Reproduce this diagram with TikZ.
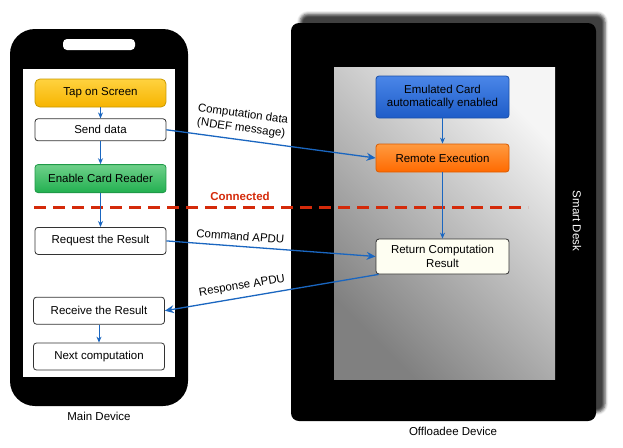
\documentclass[tikz,border=0pt]{standalone}
\usepackage{fontspec}
\setmainfont{Liberation Sans}
\usetikzlibrary{arrows.meta, positioning, shadows.blur}
\definecolor{flowblue}{RGB}{26,102,192}
\definecolor{linkred}{RGB}{212,42,10}
\definecolor{tapyl}{RGB}{255,210,63}
\definecolor{tapyd}{RGB}{246,180,0}
\definecolor{tapyb}{RGB}{201,154,0}
\definecolor{cardgl}{RGB}{111,208,138}
\definecolor{cardgd}{RGB}{34,176,80}
\definecolor{cardgb}{RGB}{31,154,72}
\definecolor{emubl}{RGB}{74,134,232}
\definecolor{emubd}{RGB}{30,92,200}
\definecolor{emubb}{RGB}{26,79,168}
\definecolor{execol}{RGB}{255,154,64}
\definecolor{execod}{RGB}{255,106,0}
\definecolor{execob}{RGB}{216,90,0}
\definecolor{resivory}{RGB}{254,254,242}

\begin{document}
\begin{tikzpicture}[x=1pt, y=-1pt,
  stepbox/.style={rectangle, draw=black!80, fill=white, line width=0.8pt, rounded corners=3pt, minimum width=131pt, minimum height=27pt, align=center, font=\fontsize{11.5}{13.5}\selectfont, inner sep=2pt},
  tapbox/.style={stepbox, draw=tapyb, top color=tapyl, bottom color=tapyd, rounded corners=5pt, minimum height=28pt},
  readerbox/.style={stepbox, draw=cardgb, top color=cardgl, bottom color=cardgd, minimum height=28pt},
  emubox/.style={stepbox, draw=emubb, top color=emubl, bottom color=emubd, minimum width=133pt, minimum height=42pt},
  execbox/.style={stepbox, draw=execob, top color=execol, bottom color=execod, minimum width=133pt, minimum height=28pt},
  resbox/.style={stepbox, fill=resivory, minimum width=133pt, minimum height=35pt},
  flow/.style={-{Stealth[length=6pt, width=5pt]}, draw=flowblue, line width=1pt},
  link/.style={-{Stealth[length=9pt, width=8pt, inset=3pt]}, draw=flowblue, line width=1.3pt},
  msg/.style={font=\fontsize{11.5}{14}\selectfont, align=center, sloped, above=2pt},
  caption/.style={font=\fontsize{11.5}{13}\selectfont}
]
\useasboundingbox (0,0) rectangle (623,447);

% main device (phone)
\fill[black, rounded corners=25pt] (10,29) rectangle (188,406);
\fill[white, rounded corners=4pt] (63,39) rectangle (135,50);
\fill[white] (23,69) rectangle (175,377);
\node[caption] (maincap) at (99,416) {Main Device};

% offloadee device
\fill[black, rounded corners=8pt, blur shadow={shadow xshift=9pt, shadow yshift=9pt, shadow opacity=75, shadow blur radius=3pt}] (291,23) rectangle (596,421);
\shade[top color=black!4, bottom color=black!50, shading angle=-45] (334,67) rectangle (555,379);
\node[caption, white, rotate=-90] (desk) at (577,221) {Smart Desk};
\node[caption] (offcap) at (453,431) {Offloadee Device};

% steps on the phone
\node[tapbox] (tap) at (100.5,93) {Tap on Screen};
\node[stepbox, minimum height=22pt, below=11pt of tap] (send) {Send data};
\node[readerbox, below=23pt of send] (reader) {Enable Card Reader};
\node[stepbox, below=34pt of reader] (request) {Request the Result};
\node[stepbox, below=42pt of request, xshift=-1.5pt] (receive) {Receive the Result};
\node[stepbox, below=18pt of receive] (next) {Next computation};

% steps on the desk
\node[emubox] (emul) at (442.5,97) {Emulated Card\\automatically enabled};
\node[execbox] (remote) at (442.5,158) {Remote Execution};
\node[resbox] (result) at (442.5,256.5) {Return Computation\\Result};

% connected line
\coordinate (conl) at (34,207.5);
\coordinate (conr) at (528,207.5);
\draw[linkred, line width=2.6pt, dash pattern=on 12pt off 7pt] (conl) -- (conr);
\node[text=linkred, font=\fontsize{11.5}{13}\selectfont\bfseries] (conlbl) at (240,196) {Connected};

% arrows
\draw[flow] (tap) -- (send);
\draw[flow] (send) -- (reader);
\draw[flow] (reader) -- (request);
\draw[flow] (receive) -- (next);
\draw[flow] (emul) -- (remote);
\draw[flow] (remote) -- (result);

\draw[link] (send.east) -- (remote.west) node[msg, pos=0.35] {Computation data\\(NDEF message)};
\draw[link] (request.east) -- (result.west) node[msg, pos=0.35] {Command APDU};
\draw[link] ([xshift=3pt]result.south west) -- (receive.east) node[msg, pos=0.63] {Response APDU};

\end{tikzpicture}
\end{document}
